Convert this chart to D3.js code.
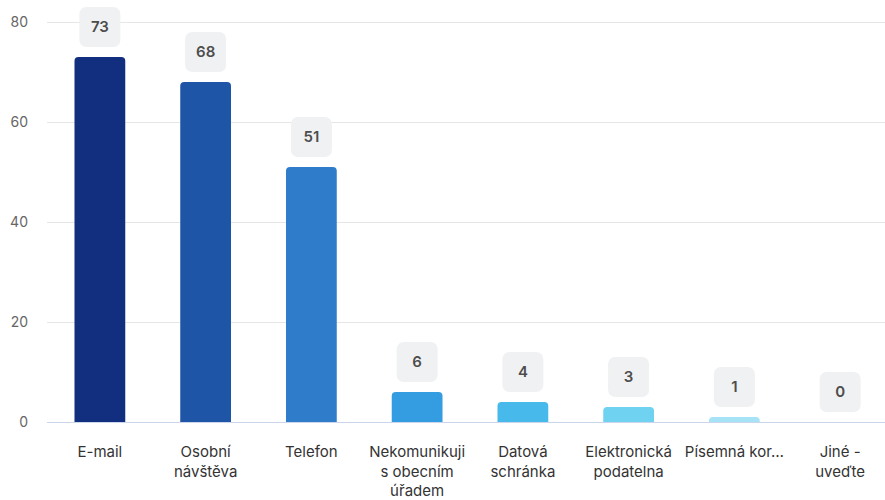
<!DOCTYPE html>
<html><head><meta charset="utf-8">
<script src="https://cdn.jsdelivr.net/npm/d3@7"></script>
<style>body{margin:0;background:#fff;} svg{display:block;font-family:Inter, "Noto Sans", sans-serif;}</style>
</head><body>
<svg id="c" width="885" height="500"></svg>
<script>
const categories = [
  ["E-mail"],
  ["Osobní", "návštěva"],
  ["Telefon"],
  ["Nekomunikuji", "s obecním", "úřadem"],
  ["Datová", "schránka"],
  ["Elektronická", "podatelna"],
  ["Písemná kor…"],
  ["Jiné -", "uveďte"]
];
const values = [73, 68, 51, 6, 4, 3, 1, 0];
const colors = ["#112f7e", "#1f55a7", "#2f7cca", "#349ce0", "#47b9ea", "#6fd2f1", "#a6e3f6", "#d8f3fb"];
const yTicks = [0, 20, 40, 60, 80];

(function () {
const svg = d3.select("#c");
const plotL = 47, plotR = 893, plotT = 22, plotB = 422;
const x = d3.scaleBand().domain(d3.range(categories.length)).range([plotL, plotR]).paddingInner(0.52).paddingOuter(0.26);
const y = d3.scaleLinear().domain([0, 80]).range([plotB, plotT]);

// grid
svg.append("g").selectAll("line").data(yTicks.filter(d => d > 0)).join("line")
  .attr("x1", plotL).attr("x2", 885).attr("y1", d => y(d) + 0.5).attr("y2", d => y(d) + 0.5)
  .attr("stroke", "#e6e6e6").attr("stroke-width", 1);

// y labels
svg.append("g").selectAll("text").data(yTicks).join("text")
  .attr("x", 28).attr("y", d => y(d)).attr("dy", "0.35em").attr("text-anchor", "end")
  .attr("fill", "#666").attr("font-size", 14).text(d => d);

// bars with rounded top
const r = 4;
function barPath(d, i) {
  const x0 = x(i), w = x.bandwidth(), y0 = y(d), h = plotB - y0;
  if (h <= 0) return "";
  const rr = Math.min(r, h);
  return `M${x0},${plotB}V${y0 + rr}Q${x0},${y0} ${x0 + rr},${y0}H${x0 + w - rr}Q${x0 + w},${y0} ${x0 + w},${y0 + rr}V${plotB}Z`;
}
svg.append("g").selectAll("path").data(values).join("path")
  .attr("d", barPath).attr("fill", (d, i) => colors[i]);

// baseline
svg.append("line").attr("x1", plotL).attr("x2", 885).attr("y1", plotB + 0.5).attr("y2", plotB + 0.5)
  .attr("stroke", "#ccd6eb").attr("stroke-width", 1);

// value label boxes
const lbl = svg.append("g").selectAll("g").data(values).join("g")
  .attr("transform", (d, i) => `translate(${x(i) + x.bandwidth() / 2},${y(d) - 10})`);
lbl.append("rect").attr("x", -20.5).attr("y", -40).attr("width", 41).attr("height", 40)
  .attr("rx", 7).attr("fill", "#f0f1f2");
lbl.append("text").attr("y", -20).attr("dy", "0.36em").attr("text-anchor", "middle")
  .attr("font-size", 15).attr("font-weight", 600).attr("fill", "#4d4d4d").text(d => d);

// x labels
const xl = svg.append("g").selectAll("text").data(categories).join("text")
  .attr("text-anchor", "middle").attr("fill", "#333").attr("font-size", 15)
  .attr("x", (d, i) => x(i) + x.bandwidth() / 2).attr("y", 457);
xl.selectAll("tspan").data(d => d).join("tspan")
  .attr("x", function() { return this.parentNode.getAttribute("x"); })
  .attr("dy", (d, j) => j === 0 ? 0 : 19.5).text(d => d);
})();
</script>
</body></html>
